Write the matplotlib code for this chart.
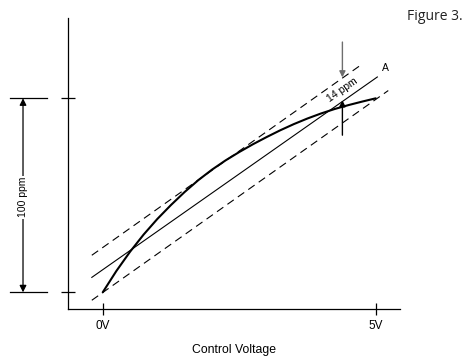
import matplotlib
matplotlib.use('Agg')
import matplotlib.pyplot as plt
import numpy as np

# control voltage (V) vs frequency deviation (ppm)
curve_v = [0, 0.25, 0.5, 0.75, 1.0, 1.25, 1.5, 1.75, 2.0, 2.25, 2.5,
           2.75, 3.0, 3.25, 3.5, 3.75, 4.0, 4.25, 4.5, 4.75, 5.0]
curve_ppm = [0, 11.0, 20.9, 29.8, 37.8, 45.0, 51.7, 57.8, 63.2, 68.0, 72.3,
             76.3, 80.0, 83.5, 86.7, 89.6, 92.2, 94.5, 96.5, 98.3, 100]

# best fit straight line "A" and the two dashed limit lines
line_a_v = [-0.2, 5.03]
line_a_ppm = [7.7, 111.0]
upper_v = [-0.2, 4.74]
upper_ppm = [19.1, 117.4]
lower_v = [-0.2, 5.23]
lower_ppm = [-4.1, 104.0]

# the 14 ppm marker arrows
marker_v = 4.39
down_arrow_ppm = [129.0, 110.8]
up_arrow_ppm = [81.0, 99.0]

xticks = [0, 5]
xticklabels = ['0V', '5V']
yticks = [0, 100]

plt.rcParams['font.family'] = ['Liberation Sans', 'DejaVu Sans']

fig = plt.figure(figsize=(4.75, 3.61), dpi=100)
ax = fig.add_axes([68 / 475, 52 / 361, 332 / 475, 291 / 361])

ax.plot(curve_v, curve_ppm, color='black', lw=1.5, solid_capstyle='round',
        solid_joinstyle='round')
ax.plot(line_a_v, line_a_ppm, color='black', lw=0.8)
ax.plot(upper_v, upper_ppm, color='black', lw=0.8, dashes=(7, 4.5))
ax.plot(lower_v, lower_ppm, color='black', lw=0.8, dashes=(7, 4.5))

ax.annotate('', xy=(marker_v, down_arrow_ppm[1]), xytext=(marker_v, down_arrow_ppm[0]),
            arrowprops=dict(arrowstyle='-|>', color='#6e6e6e', lw=1.0,
                            mutation_scale=9, shrinkA=0, shrinkB=0))
ax.annotate('', xy=(marker_v, up_arrow_ppm[1]), xytext=(marker_v, up_arrow_ppm[0]),
            arrowprops=dict(arrowstyle='-|>', color='black', lw=1.0,
                            mutation_scale=9, shrinkA=0, shrinkB=0))
ax.text(4.38, 104.3, '14 ppm', rotation=35, rotation_mode='anchor',
        ha='center', va='center', fontsize=7.5)
ax.text(5.17, 115.5, 'A', ha='center', va='center', fontsize=7.5)

# 100 ppm dimension on the left, outside the axes
for y in yticks:
    ax.plot([-1.70, -1.02], [y, y], color='black', lw=0.9, clip_on=False)
ax.annotate('', xy=(-1.46, 0), xytext=(-1.46, 100), annotation_clip=False,
            arrowprops=dict(arrowstyle='<|-|>', color='black', lw=0.9,
                            mutation_scale=10, shrinkA=0, shrinkB=0))
ax.text(-1.46, 49, '100 ppm', rotation=90, ha='center', va='center', fontsize=7.5,
        bbox=dict(facecolor='white', edgecolor='none', pad=1.0))

ax.set_xlim(-0.636, 5.445)
ax.set_ylim(-8.6, 141.4)
ax.spines['top'].set_visible(False)
ax.spines['right'].set_visible(False)
ax.spines['left'].set_linewidth(0.9)
ax.spines['bottom'].set_linewidth(0.9)
ax.set_xticks(xticks)
ax.set_xticklabels(xticklabels)
ax.set_yticks(yticks)
ax.set_yticklabels([])
ax.tick_params(axis='x', direction='inout', length=8.6, width=0.9, pad=3.5, labelsize=8.5)
ax.tick_params(axis='y', direction='inout', length=10.5, width=0.9)
ax.set_xlabel('Control Voltage', fontsize=8.8, labelpad=9)

fig.text(435 / 475, 1 - 17 / 361, 'Figure 3.', ha='center', va='center',
         fontsize=10, family=['Open Sans', 'DejaVu Sans'], color='#222222')

plt.savefig('out.png', dpi=100)
